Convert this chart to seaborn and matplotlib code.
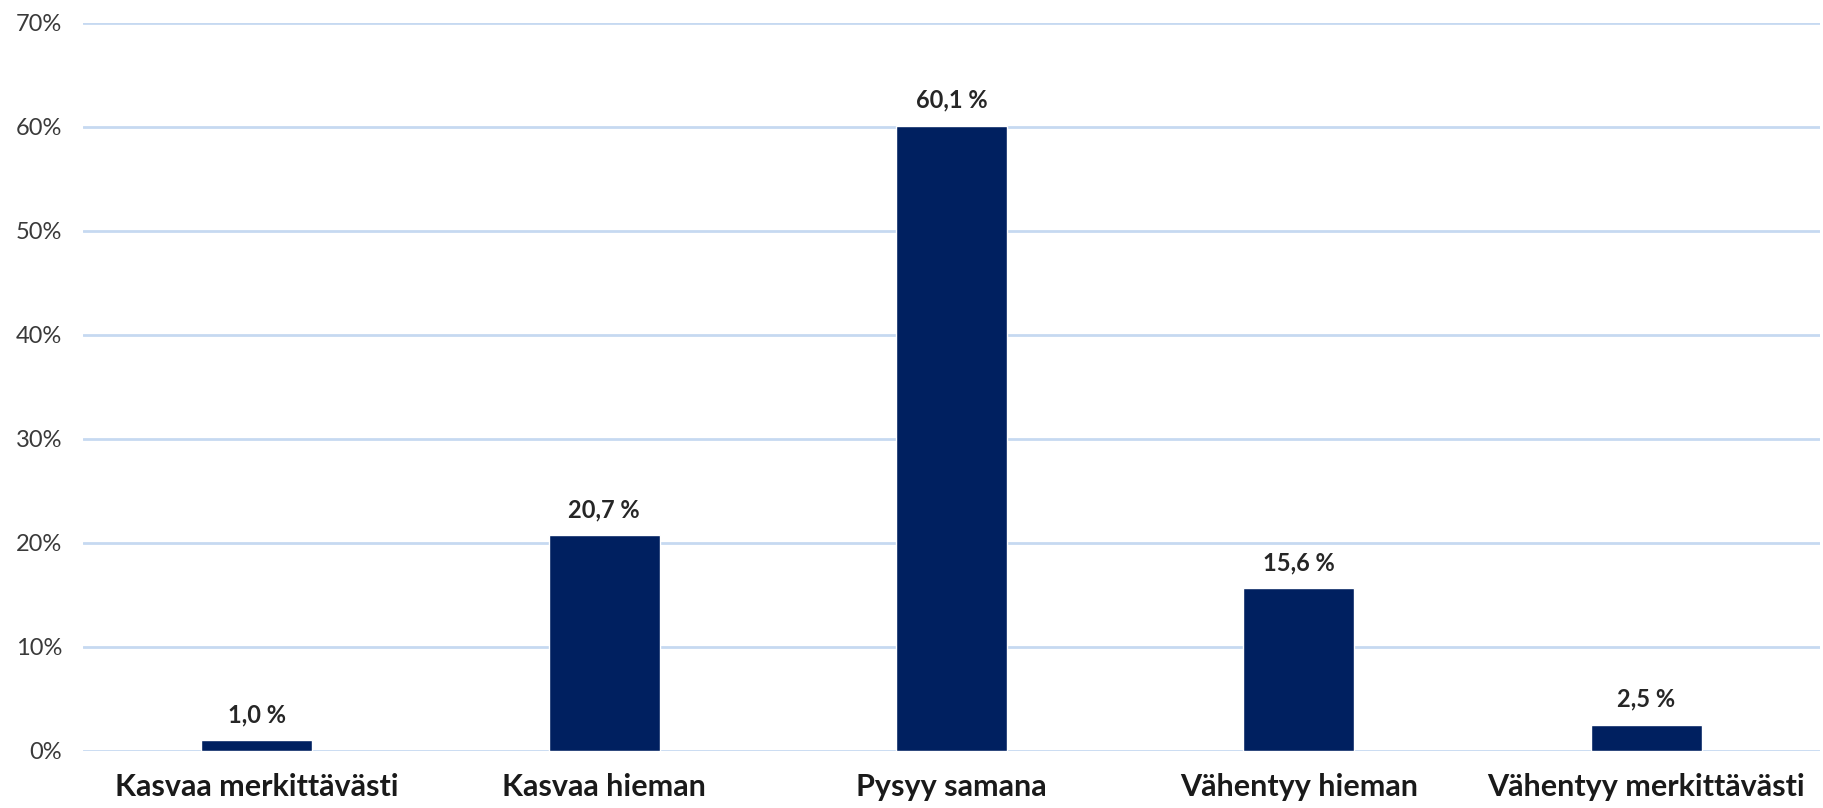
import matplotlib
matplotlib.use("Agg")
import matplotlib.pyplot as plt
import seaborn as sns
import pandas as pd

categories = ["Kasvaa merkittävästi", "Kasvaa hieman", "Pysyy samana", "Vähentyy hieman", "Vähentyy merkittävästi"]
values = [1.0, 20.7, 60.1, 15.6, 2.5]
y_ticks = [0, 10, 20, 30, 40, 50, 60, 70]
y_tick_labels = ["0%", "10%", "20%", "30%", "40%", "50%", "60%", "70%"]
value_labels = ["1,0 %", "20,7 %", "60,1 %", "15,6 %", "2,5 %"]

sns.set_theme(style="white")
plt.rcParams['font.family'] = ['Lato', 'DejaVu Sans']

df = pd.DataFrame({"cat": categories, "val": values})

fig = plt.figure(figsize=(18.24, 8.08), dpi=100)
ax = fig.add_axes([83/1824, (808-750.7)/808, (1820-83)/1824, (750.7-22.7)/808])

sns.barplot(data=df, x="cat", y="val", color="#002060", width=0.32, ax=ax,
            saturation=1, zorder=3)

ax.set_ylim(0, 70)
ax.set_yticks(y_ticks)
ax.set_yticklabels(y_tick_labels, fontsize=17, fontweight='normal', color='#3a3a3a')
ax.yaxis.grid(True, color='#C6D9F1', linewidth=2, zorder=0)
ax.set_axisbelow(True)
for s in ax.spines.values():
    s.set_visible(False)
ax.tick_params(axis='y', length=0, pad=15)
ax.tick_params(axis='x', length=0, pad=16)
for lbl in ax.get_xticklabels():
    lbl.set_fontsize(22)
    lbl.set_fontweight('bold')
    lbl.set_color('#1a1a1a')
ax.set_xlabel("")
ax.set_ylabel("")

for i, (v, t) in enumerate(zip(values, value_labels)):
    ax.annotate(t, (i, v), xytext=(0, 10), textcoords='offset points',
                ha='center', va='bottom', fontsize=17, fontweight='bold', color='#262626')

fig.savefig("out.png", dpi=100)
